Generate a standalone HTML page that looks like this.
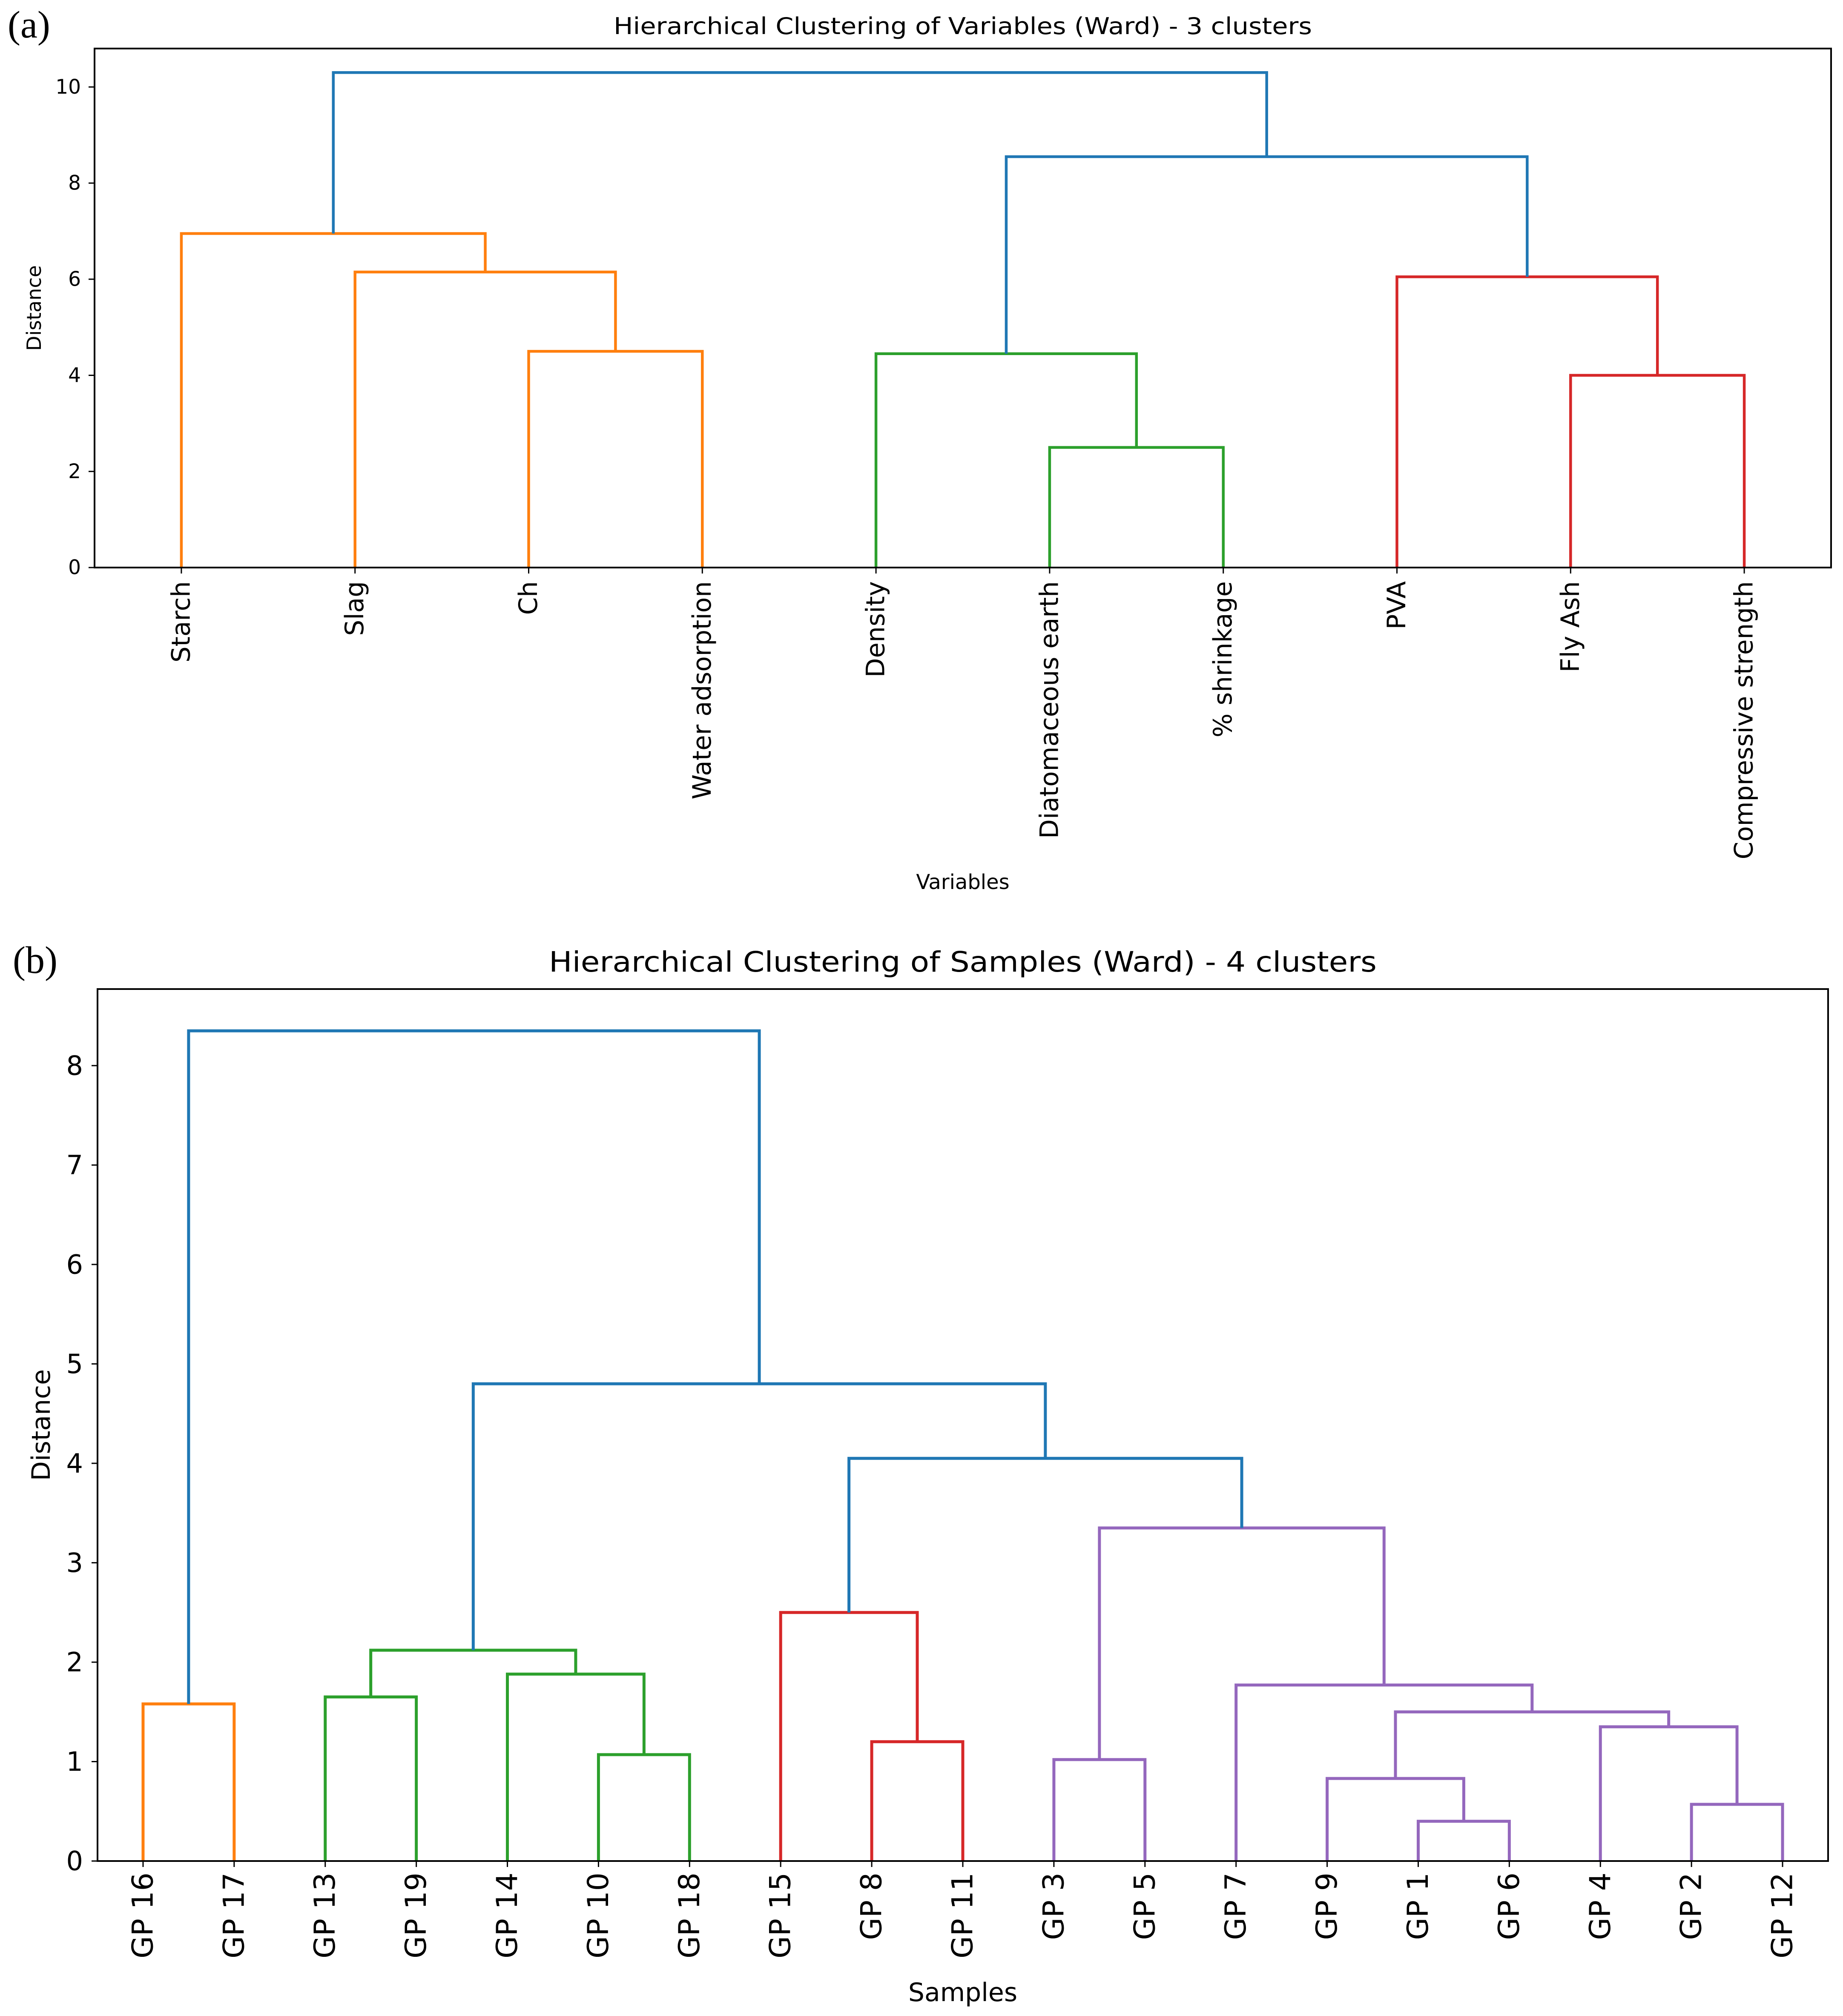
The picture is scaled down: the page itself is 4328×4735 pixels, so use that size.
<!DOCTYPE html>
<html><head><meta charset="utf-8">
<style>
html,body{margin:0;padding:0;background:#fff;}
svg{display:block;font-family:"DejaVu Sans","Liberation Sans",sans-serif;}
</style></head>
<body>
<svg id="fig" width="4328" height="4735" viewBox="0 0 4328 4735" xmlns="http://www.w3.org/2000/svg">
<rect width="4328" height="4735" fill="#fff"/>
<text x="18" y="88" font-family="Liberation Serif, serif" font-size="90">(a)</text>
<text x="30" y="2285" font-family="Liberation Serif, serif" font-size="90">(b)</text>
<g id="pa"></g>
<g id="pb"></g>
</svg>
<script>
// ---- Panel (a) data ----
const varLabels = ["Starch","Slag","Ch","Water adsorption","Density","Diatomaceous earth","% shrinkage","PVA","Fly Ash","Compressive strength"];
const varMergeLeft  = [2,5,8,4,1,7,0,13,16];
const varMergeRight = [3,6,9,11,10,12,14,15,17];
const varMergeHeight= [4.5,2.5,4.0,4.45,6.15,6.05,6.95,8.55,10.3];
const varMergeColor = ["orange","green","red","green","orange","red","orange","blue","blue"];
const varTicks = [0,2,4,6,8,10];
// ---- Panel (b) data ----
const sampLabels = ["GP 16","GP 17","GP 13","GP 19","GP 14","GP 10","GP 18","GP 15","GP 8","GP 11","GP 3","GP 5","GP 7","GP 9","GP 1","GP 6","GP 4","GP 2","GP 12"];
const sampMergeLeft  = [14,17,13,10,5,8,16,21,0,2,12,4,28,7,22,32,31,27];
const sampMergeRight = [15,18,19,11,6,9,20,25,1,3,26,23,30,24,29,33,34,35];
const sampMergeHeight= [0.4,0.57,0.83,1.02,1.07,1.2,1.35,1.5,1.58,1.65,1.77,1.88,2.12,2.5,3.35,4.05,4.8,8.35];
const sampMergeColor = ["purple","purple","purple","purple","green","red","purple","purple","orange","green","purple","green","green","red","purple","blue","blue","blue"];
const sampTicks = [0,1,2,3,4,5,6,7,8];

const COLORS={blue:"#1f77b4",orange:"#ff7f0e",green:"#2ca02c",red:"#d62728",purple:"#9467bd"};
const NS="http://www.w3.org/2000/svg";
function mk(tag,attrs,parent,text){const e=document.createElementNS(NS,tag);for(const k in attrs)e.setAttribute(k,attrs[k]);if(text!==undefined)e.textContent=text;parent.appendChild(e);return e;}

function drawDendro(g,cfg){
  const {left,right,top,bottom,ymax,labels,mL,mR,mH,mC,ticks,lw,tickFont,labFont,labTop,title,titleY,titleFont,titleLen,xlab,xlabY,xlabFont,ylabX,ylabFont,tickLabX}=cfg;
  const n=labels.length;
  const xs=i=>left+(right-left)*(i+0.5)/n;
  const ys=v=>bottom-(bottom-top)*v/ymax;
  const nodeX=[],nodeH=[];
  for(let i=0;i<n;i++){nodeX.push(xs(i));nodeH.push(0);}
  for(let k=0;k<mL.length;k++){
    const a=mL[k],b=mR[k],h=mH[k];
    const xa=nodeX[a],xb=nodeX[b];
    const p=mk("path",{d:`M${xa},${ys(nodeH[a])}V${ys(h)}H${xb}V${ys(nodeH[b])}`,fill:"none",stroke:COLORS[mC[k]],"stroke-width":lw},g);
    
    
    nodeX.push((xa+xb)/2);nodeH.push(h);
  }
  const fr=mk("rect",{x:left,y:top,width:right-left,height:bottom-top,fill:"none",stroke:"#000","stroke-width":4},g);
  
  
  ticks.forEach(t=>{
    const y=ys(t);
    const tk=mk("line",{x1:left-14,x2:left,y1:y,y2:y,stroke:"#000","stroke-width":3},g);
    
    
    const tl=mk("text",{x:tickLabX,y:y,"text-anchor":"end","dominant-baseline":"central","font-size":tickFont},g,String(t));
    
    
  });
  labels.forEach((l,i)=>{
    const x=xs(i);
    const tk=mk("line",{x1:x,x2:x,y1:bottom,y2:bottom+14,stroke:"#000","stroke-width":3},g);
    
    
    const t=mk("text",{x:0,y:0,"text-anchor":"end","dominant-baseline":"central","font-size":labFont,transform:`translate(${x},${labTop}) rotate(-90)`},g,l);
    
    
  });
  const ti=mk("text",{x:(left+right)/2,y:titleY,"text-anchor":"middle","font-size":titleFont,textLength:titleLen,lengthAdjust:"spacingAndGlyphs"},g,title);
  
  
  const xl=mk("text",{x:(left+right)/2,y:xlabY,"text-anchor":"middle","font-size":xlabFont},g,xlab);
  
  
  const yl=mk("text",{x:0,y:0,"text-anchor":"middle","dominant-baseline":"central","font-size":ylabFont,transform:`translate(${ylabX},${(top+bottom)/2}) rotate(-90)`},g,"Distance");
  
  
}

drawDendro(document.getElementById('pa'),{
  left:222,right:4300,top:114,bottom:1333,ymax:10.8,labels:varLabels,
  mL:varMergeLeft,mR:varMergeRight,mH:varMergeHeight,mC:varMergeColor,ticks:varTicks,
  lw:6.5,tickFont:47,labFont:59.5,labTop:1365,
  title:"Hierarchical Clustering of Variables (Ward) - 3 clusters",titleY:80,titleFont:54,titleLen:1640,
  xlab:"Variables",xlabY:2088,xlabFont:48,ylabX:80,ylabFont:46,tickLabX:190
});
drawDendro(document.getElementById('pb'),{
  left:229,right:4293,top:2323,bottom:4371,ymax:8.77,labels:sampLabels,
  mL:sampMergeLeft,mR:sampMergeRight,mH:sampMergeHeight,mC:sampMergeColor,ticks:sampTicks,
  lw:7,tickFont:62,labFont:68,labTop:4398,
  title:"Hierarchical Clustering of Samples (Ward) - 4 clusters",titleY:2282,titleFont:66,titleLen:1944,
  xlab:"Samples",xlabY:4700,xlabFont:60,ylabX:97,ylabFont:60,tickLabX:195
});
</script>
</body></html>
